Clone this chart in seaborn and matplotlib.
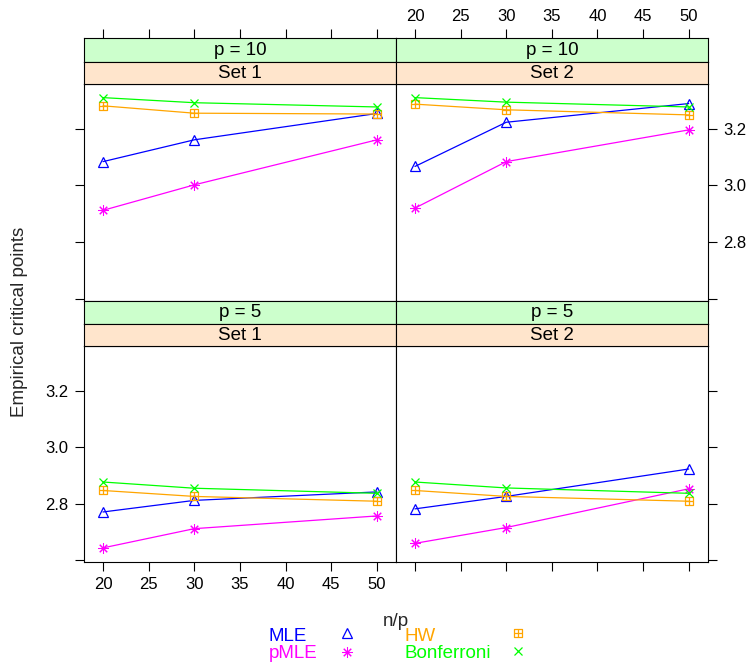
import matplotlib
matplotlib.use("Agg")
import matplotlib.pyplot as plt
import seaborn as sns
import pandas as pd
from matplotlib.path import Path
from matplotlib.lines import Line2D

sns.set_style("ticks")
plt.rcParams['font.family'] = ['Liberation Sans', 'DejaVu Sans']

# ---------------- data ----------------
n_over_p = [20, 30, 50]
methods = ["MLE", "pMLE", "HW", "Bonferroni"]
p_levels = ["p = 10", "p = 5"]
sets = ["Set 1", "Set 2"]

# p = 10, Set 1
mle_p10_s1 = [3.084, 3.161, 3.254]
pmle_p10_s1 = [2.912, 3.002, 3.161]
hw_p10_s1 = [3.281, 3.255, 3.252]
bonf_p10_s1 = [3.310, 3.292, 3.277]
# p = 10, Set 2
mle_p10_s2 = [3.067, 3.223, 3.289]
pmle_p10_s2 = [2.920, 3.084, 3.196]
hw_p10_s2 = [3.287, 3.267, 3.249]
bonf_p10_s2 = [3.310, 3.294, 3.277]
# p = 5, Set 1
mle_p5_s1 = [2.771, 2.812, 2.842]
pmle_p5_s1 = [2.644, 2.712, 2.757]
hw_p5_s1 = [2.847, 2.826, 2.809]
bonf_p5_s1 = [2.877, 2.855, 2.837]
# p = 5, Set 2
mle_p5_s2 = [2.782, 2.826, 2.923]
pmle_p5_s2 = [2.660, 2.716, 2.853]
hw_p5_s2 = [2.847, 2.826, 2.809]
bonf_p5_s2 = [2.877, 2.856, 2.837]

panel_values = {
    ("p = 10", "Set 1"): [mle_p10_s1, pmle_p10_s1, hw_p10_s1, bonf_p10_s1],
    ("p = 10", "Set 2"): [mle_p10_s2, pmle_p10_s2, hw_p10_s2, bonf_p10_s2],
    ("p = 5", "Set 1"): [mle_p5_s1, pmle_p5_s1, hw_p5_s1, bonf_p5_s1],
    ("p = 5", "Set 2"): [mle_p5_s2, pmle_p5_s2, hw_p5_s2, bonf_p5_s2],
}

rows = []
for (p, s), vals in panel_values.items():
    for m, series in zip(methods, vals):
        for x, v in zip(n_over_p, series):
            rows.append({"p": p, "set": s, "method": m, "n_over_p": x, "value": v})
df = pd.DataFrame(rows)

# ---------------- styles ----------------
colors = {"MLE": "#0000FF", "pMLE": "#FF00FF", "HW": "#FFA500", "Bonferroni": "#00FF00"}
sq_plus = Path(
    [(-1, -1), (1, -1), (1, 1), (-1, 1), (-1, -1), (-1, 0), (1, 0), (0, -1), (0, 1)],
    [Path.MOVETO, Path.LINETO, Path.LINETO, Path.LINETO, Path.CLOSEPOLY,
     Path.MOVETO, Path.LINETO, Path.MOVETO, Path.LINETO])
markers = {"MLE": "^", "pMLE": (8, 2, 0), "HW": sq_plus, "Bonferroni": "x"}
msizes = {"MLE": 7.5, "pMLE": 7.5, "HW": 6.0, "Bonferroni": 6.0}
mews = {"MLE": 0.9, "pMLE": 0.75, "HW": 0.9, "Bonferroni": 0.9}

W, H = 753, 665
FS = 13.5      # strip / axis titles / legend
FS_TICK = 12.0
fig = plt.figure(figsize=(W / 100, H / 100), dpi=100)


def fx(px):
    return px / W


def fy(py):
    return 1 - py / H


def rect(x0, x1, y0, y1):
    return [x0 / W, 1 - y1 / H, (x1 - x0) / W, (y1 - y0) / H]


cols_px = [(84, 396), (396, 707.7)]
rows_px = [  # (green top, green/orange split, orange bottom/data top, data bottom)
    (38.3, 61.5, 84.3, 300.7),
    (300.7, 323.7, 346.3, 562.3),
]
strip_green = "#CCFFCC"
strip_orange = "#FFE5CC"

XLIM = (17.92, 52.08)
YLIM = (2.593, 3.357)
xticks = [20, 25, 30, 35, 40, 45, 50]
yticks = [2.6, 2.8, 3.0, 3.2]
ylabels = ["", "2.8", "3.0", "3.2"]
TICK_KW = dict(direction="out", length=6.5, width=0.8, color="black",
               labelsize=FS_TICK, labelcolor="black")


def style_spines(a):
    for sp in a.spines.values():
        sp.set_visible(True)
        sp.set_color("black")
        sp.set_linewidth(0.8)


for r, p in enumerate(p_levels):
    g0, g1, o1, d1 = rows_px[r]
    for c, s in enumerate(sets):
        x0, x1 = cols_px[c]
        ax = fig.add_axes(rect(x0, x1, o1, d1))
        sub = df[(df.p == p) & (df.set == s)]
        for m in methods:
            sns.lineplot(data=sub[sub.method == m], x="n_over_p", y="value",
                         color=colors[m], marker=markers[m], markersize=msizes[m],
                         markerfacecolor="none", markeredgecolor=colors[m],
                         markeredgewidth=mews[m], linewidth=0.9, ax=ax,
                         legend=False, errorbar=None)
        ax.set_xlim(*XLIM)
        ax.set_ylim(*YLIM)
        ax.set_xlabel("")
        ax.set_ylabel("")
        style_spines(ax)
        ax.set_xticks(xticks)
        ax.set_xticklabels([str(t) for t in xticks])
        ax.set_yticks(yticks)
        ax.set_yticklabels(ylabels)
        ax.tick_params(**TICK_KW)
        ax.tick_params(axis="x", pad=4.0)
        ax.tick_params(axis="y", pad=4.5)
        if r == 0:
            ax.tick_params(axis="x", top=False, bottom=False, labelbottom=False,
                           labeltop=False)
        else:
            ax.tick_params(axis="x", top=False, bottom=True, labeltop=False,
                           labelbottom=(c == 0))
        if c == 0:
            ax.tick_params(axis="y", left=True, right=False, labelright=False,
                           labelleft=(r == 1))
        else:
            ax.tick_params(axis="y", left=False, right=True, labelleft=False,
                           labelright=(r == 0))

        # strips
        for k, (ya, yb, col, txt) in enumerate([(g0, g1, strip_green, p),
                                                (g1, o1, strip_orange, s)]):
            sa = fig.add_axes(rect(x0, x1, ya, yb))
            sa.set_facecolor(col)
            sa.set_yticks([])
            sa.set_xlim(*XLIM)
            if r == 0 and k == 0:
                sa.set_xticks(xticks)
                sa.set_xticklabels([str(t) for t in xticks])
                sa.tick_params(**TICK_KW)
                sa.tick_params(axis="x", pad=4.0, top=True, bottom=False,
                               labelbottom=False, labeltop=(c == 1))
            else:
                sa.set_xticks([])
            style_spines(sa)
            sa.text(0.5, 0.47, txt, ha="center", va="center", fontsize=FS,
                    transform=sa.transAxes, color="black")

fig.text(fx(19.5), fy(321.5), "Empirical critical points", rotation=90,
         ha="center", va="center", fontsize=FS)
fig.text(fx(396), fy(621), "n/p", ha="center", va="center", fontsize=FS)

# legend: coloured labels (left aligned) with keys to their right
legend_rows = [("MLE", 269, 641, 347, 634.5), ("pMLE", 269, 657.5, 347, 653.5),
               ("HW", 404, 641, 518, 634.5), ("Bonferroni", 404, 657.5, 518, 652.5)]
for m, tx, ty, kx, ky in legend_rows:
    fig.text(fx(tx), fy(ty), m, color=colors[m], ha="left", va="baseline",
             fontsize=FS)
    key = Line2D([], [], color=colors[m], marker=markers[m], linestyle="none",
                 markersize=msizes[m], markerfacecolor="none",
                 markeredgecolor=colors[m], markeredgewidth=mews[m])
    fig.legend([key], [""], loc="center", bbox_to_anchor=(fx(kx), fy(ky)),
               frameon=False, borderpad=0, borderaxespad=0, handlelength=1.0,
               handletextpad=0, fontsize=FS)

fig.savefig("out.png", dpi=100)
